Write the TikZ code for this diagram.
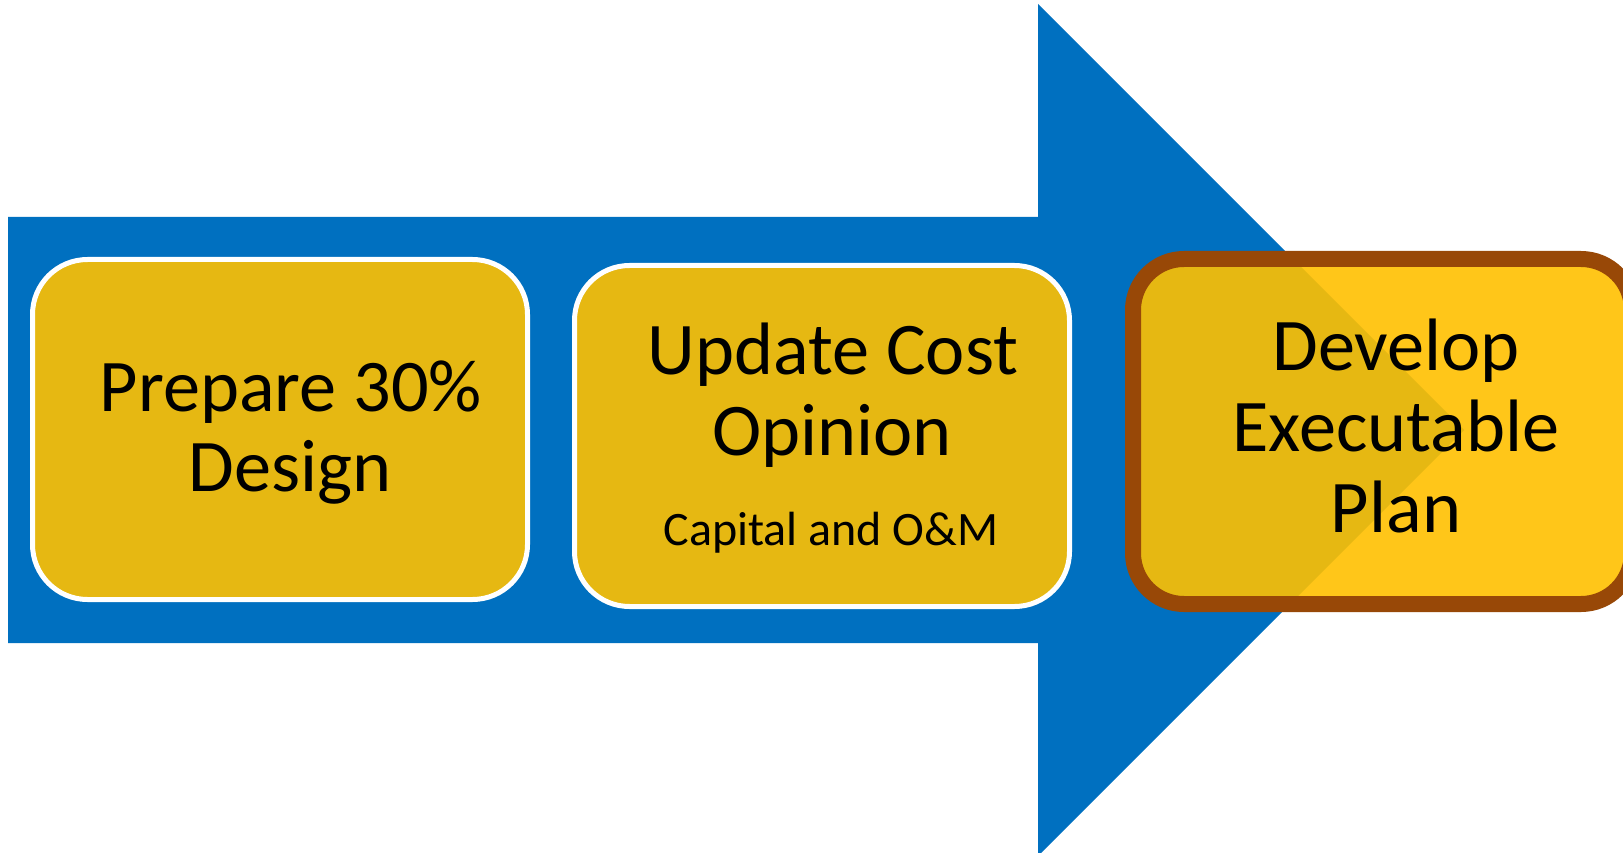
\documentclass[tikz,border=0pt]{standalone}
\usepackage{fontspec}
\setmainfont{Carlito}
\definecolor{arrowblue}{HTML}{0070C0}
\definecolor{stepyellow}{HTML}{FFC000}
\definecolor{stepbrown}{HTML}{984807}
\tikzset{
  stepbox/.style={rectangle, rounded corners=55pt, inner sep=0pt,
    fill=stepyellow, fill opacity=0.9, draw=white, line width=5pt},
  finalbox/.style={rectangle, rounded corners=51pt, inner sep=0pt,
    fill=stepyellow, fill opacity=0.9, draw=stepbrown, line width=16pt},
  bigtext/.style={anchor=base, inner sep=0pt, text=black,
    font=\fontsize{74.3}{81}\selectfont},
  smalltext/.style={anchor=base, inner sep=0pt, text=black,
    font=\fontsize{48}{57}\selectfont}
}
\begin{document}
\begin{tikzpicture}[x=1pt, y=-1pt]
  \clip (0,0) rectangle (1623,853);
  \fill[white] (0,0) rectangle (1623,853);

  % large process arrow behind the steps
  \fill[arrowblue] (8,217) -- (1038,217) -- (1038,4) -- (1464,430)
    -- (1038,856) -- (1038,643) -- (8,643) -- cycle;

  % step boxes
  \node[stepbox, minimum width=495pt, minimum height=340pt] (s1) at (280,429.5) {};
  \node[stepbox, minimum width=495pt, minimum height=341pt] (s2) at (822,436) {};
  \node[finalbox, minimum width=499pt, minimum height=345pt] (s3) at (1382.5,431.5) {};

  % step labels
  \node[bigtext] (s1a) at (291,411) {Prepare 30\%};
  \node[bigtext] (s1b) at (290,491) {Design};

  \node[bigtext] (s2a) at (833,374) {Update Cost};
  \node[bigtext] (s2b) at (832,455) {Opinion};
  \node[smalltext] (s2c) at (831,545) {Capital and O\&M};

  \node[bigtext] (s3a) at (1396,370) {Develop};
  \node[bigtext] (s3b) at (1396,451) {Executable};
  \node[bigtext] (s3c) at (1396,532) {Plan};
\end{tikzpicture}
\end{document}
